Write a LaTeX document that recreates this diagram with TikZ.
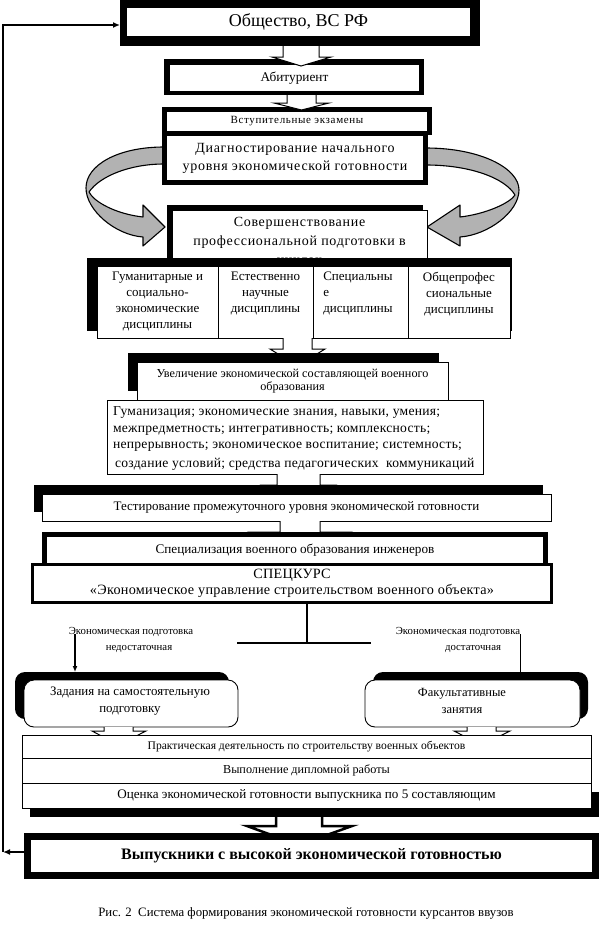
\documentclass[tikz,border=0pt]{standalone}
\usepackage{fontspec}
\setmainfont{Liberation Serif}
\usetikzlibrary{arrows.meta}
\newcommand\fsz[2]{\fontsize{#1pt}{#2pt}\selectfont}
\newcommand\lsp[1]{\addfontfeature{LetterSpace=#1}}
\begin{document}
\begin{tikzpicture}[x=1pt,y=-1pt]
\tikzset{
  corners/.style n args={4}{at={({(#1+#3)/2},{(#2+#4)/2})},
     minimum width={(#3-#1)*1pt}, minimum height={(#4-#2)*1pt}},
  blk/.style={fill=black, draw=none, inner sep=0pt, outer sep=0pt},
  wht/.style={fill=white, draw=none, inner sep=0pt, outer sep=0pt, align=center},
  lbox/.style={fill=white, draw=black, line width=0.9pt, inner sep=0pt, outer sep=0pt, align=center},
  barrow/.style={fill=white, draw=black, line width=1pt, line join=miter},
  ribbon/.style={fill=black!30, draw=black, line width=1.1pt, line join=round},
  txt/.style={inner sep=0pt, outer sep=0pt, align=center},
  fbarrow/.style={line width=1.8pt, -{Latex[length=7pt,width=6pt]}},
}
\useasboundingbox (0,0) rectangle (599,938);
\fill[white] (0,0) rectangle (599,938);

% ---------- ribbons ----------
\draw[ribbon] (164,147) .. controls (118,147) and (86,165) .. (86,188)
   .. controls (86,210) and (115,235) .. (143,237) -- (143,246) -- (165,227) -- (143,205) -- (143,217)
   .. controls (116,214) and (94,202) .. (89,192)
   .. controls (100,176) and (130,164) .. (164,164) -- cycle;
\draw[ribbon] (426,148) .. controls (480,148) and (519,168) .. (519,190)
   .. controls (519,212) and (488,235) .. (460,237) -- (460,246) -- (427,227) -- (460,205) -- (460,217)
   .. controls (486,214) and (510,203) .. (515,195)
   .. controls (505,178) and (470,165) .. (426,165) -- cycle;

% ---------- top ----------
\node[blk, corners={120}{0}{480}{46}] (socf) {};
\node[wht, corners={127}{8}{470}{36}, font=\fsz{18}{21}] (soc) {Общество, ВС РФ};
\node[blk, corners={164}{59}{424}{95}] (abif) {};
\node[wht, corners={170}{65}{419}{91}, font=\fsz{13.3}{15}] (abi) {Абитуриент};
\draw[barrow] (283,46) -- (283,57) -- (272,57) -- (301,66) -- (331,57) -- (319,57) -- (319,46);

\node[blk, corners={162}{107}{432}{135}] (vstf) {};
\node[wht, corners={167}{112}{427}{131}, font={\fsz{11}{13}\lsp{6}}] (vst) {Вступительные экзамены};
\draw[barrow] (287,95) -- (287,103) -- (274,103) -- (301.5,110) -- (329,103) -- (316,103) -- (316,95);
\node[blk, corners={162}{131}{428}{185}] (diagf) {};
\node[wht, corners={167}{136}{423}{180}, font={\fsz{14}{18}\lsp{5}}] (diag) {Диагностирование начального\\уровня экономической готовности};

% ---------- cycles ----------
\node[blk, corners={167}{205}{423}{270}] (sovs) {};
\node[lbox, corners={172}{210}{427}{275}, font={\fsz{14}{19}\lsp{5}}] (sov) {Совершенствование\\профессиональной подготовки в\\циклах};
\node[blk, corners={87}{258}{512}{331}] (discs) {};
\node[lbox, corners={97}{266}{218}{338}] (d1) {};
\node[lbox, corners={218}{266}{313}{338}] (d2) {};
\node[lbox, corners={313}{266}{408}{338}] (d3) {};
\node[lbox, corners={408}{266}{510}{338}] (d4) {};
\node[txt, anchor=north, font=\fsz{13}{16}] (t1) at (157.5,272) {Гуманитарные и\\социально-\\экономические\\дисциплины};
\node[txt, anchor=north, font=\fsz{13}{16}] (t2) at (265.5,272) {Естественно\\научные\\дисциплины};
\node[txt, anchor=north, align=left, font=\fsz{13}{16}] (t3) at (358,272) {Специальны\\е\\дисциплины};
\node[txt, anchor=north, font=\fsz{13}{16}] (t4) at (459,272) {Общепрофес\\сиональные\\дисциплины};

\draw[barrow] (283,338) -- (283,349) -- (270,349) -- (297.5,366) -- (325,349) -- (312,349) -- (312,338);
\node[blk, corners={128}{353}{439}{391}] (uvs) {};
\node[lbox, corners={137}{362}{448}{400}, font=\fsz{12.2}{13.5}] (uv) {Увеличение экономической составляющей военного\\образования};
\node[lbox, corners={107}{400}{483}{474}] (gum) {};
\node[txt, anchor=north west, align=left, font={\fsz{13.6}{16.5}\lsp{2}}] (gumt) at (113,407) {Гуманизация; экономические знания, навыки, умения;\\межпредметность; интегративность; комплексность;\\непрерывность; экономическое воспитание; системность;\\[2pt]\hspace*{2pt}создание условий; средства педагогических\ \ коммуникаций};

\draw[barrow] (277,474) -- (277,485) -- (262,485) -- (298.5,500) -- (335,485) -- (320,485) -- (320,474);
\node[blk, corners={34}{485}{543}{512}] (tests) {};
\node[lbox, corners={42}{494}{551}{521}, font=\fsz{13}{14}] (test) {Тестирование промежуточного уровня экономической готовности};

\draw[barrow] (280,521) -- (280,532) -- (250,532) -- (300,548) -- (350,532) -- (320,532) -- (320,521);
\node[blk, corners={42}{532}{548}{566}] (specf) {};
\node[wht, corners={47}{537}{543}{563}, font=\fsz{13.2}{14}] (spec) {Специализация военного образования инженеров};
\node[blk, corners={31}{563}{553}{604}] (kursf) {};
\node[wht, corners={34}{566}{550}{601}, font={\fsz{14.2}{16}\lsp{2}}] (kurs) {СПЕЦКУРС\\«Экономическое управление строительством военного объекта»};

% ---------- branch ----------
\coordinate (br) at (307,643);
\coordinate (brl) at (237,643);
\coordinate (brr) at (371,643);
\draw[line width=1.2pt] (kursf.south -| br) -- (br);
\draw[line width=2.5pt] (brl) -- (brr);
\node[txt, font=\fsz{10.8}{15.5}] (lab1) at (131,640) {Экономическая подготовка\\\hspace*{16pt}недостаточная};
\node[txt, font=\fsz{10.8}{15.5}] (lab2) at (458,640) {Экономическая подготовка\\\hspace*{30pt}достаточная};

\node[blk, rounded corners=10pt, corners={15}{672}{229}{719}] (zads) {};
\node[lbox, rounded corners=10pt, corners={24}{680}{238}{727}] (zad) {};
\node[txt, font=\fsz{12.9}{17}] (zadt) at (130,701) {Задания на самостоятельную\\подготовку};
\node[blk, rounded corners=10pt, corners={373}{672}{588}{719}] (fakts) {};
\node[lbox, rounded corners=10pt, corners={365}{680}{580}{727}] (fak) {};
\node[txt, font=\fsz{12.5}{17}] (fakt) at (462,701) {Факультативные\\занятия};
\coordinate (la) at (75,634);
\coordinate (ra) at (520,634);
\draw[line width=1.5pt, -{Latex[length=6pt,width=5pt]}] (la) -- (la |- zads.north);
\draw[line width=1pt] (ra) -- ([yshift=-5pt]ra |- fakts.north);

\draw[barrow] (104,727) -- (104,731) -- (92,731) -- (118.5,745) -- (146,731) -- (133,731) -- (133,727);
\draw[barrow] (467,727) -- (467,731) -- (454,731) -- (481.5,745) -- (510,731) -- (496,731) -- (496,727);

% ---------- stack ----------
\node[blk, corners={30}{792}{599}{817}] (oshad) {};
\node[lbox, corners={22}{735}{591}{758}, font=\fsz{11.6}{14}] (prak) {Практическая деятельность по строительству военных объектов};
\node[lbox, corners={22}{758}{591}{783}, font=\fsz{12.2}{14}] (vyp) {Выполнение дипломной работы};
\node[lbox, corners={22}{783}{591}{808}, font=\fsz{13.1}{14}] (ocen) {Оценка экономической готовности выпускника по 5 составляющим};

\draw[barrow, line width=2.5pt] (276,817) -- (276,826) -- (247,826) -- (299,845) -- (352,826) -- (322,826) -- (322,817);
\node[blk, corners={24}{833}{599}{879}] (grad) {};
\node[wht, corners={31}{840}{592}{872}, font=\bfseries\fsz{16}{18}] (gradt) {Выпускники с высокой экономической готовностью};

% ---------- feedback ----------
\coordinate (fbl) at (3,852);
\coordinate (fbt) at (3,25);
\draw[fbarrow] ([yshift=4pt]grad.west) -- (fbl);
\draw[fbarrow] (fbl) -- (fbt) -- (fbt -| socf.west);

\node[txt, font=\fsz{12.8}{14}] (cap) at (306,913) {Рис. 2\ \ Система формирования экономической готовности курсантов ввузов};
\end{tikzpicture}
\end{document}
